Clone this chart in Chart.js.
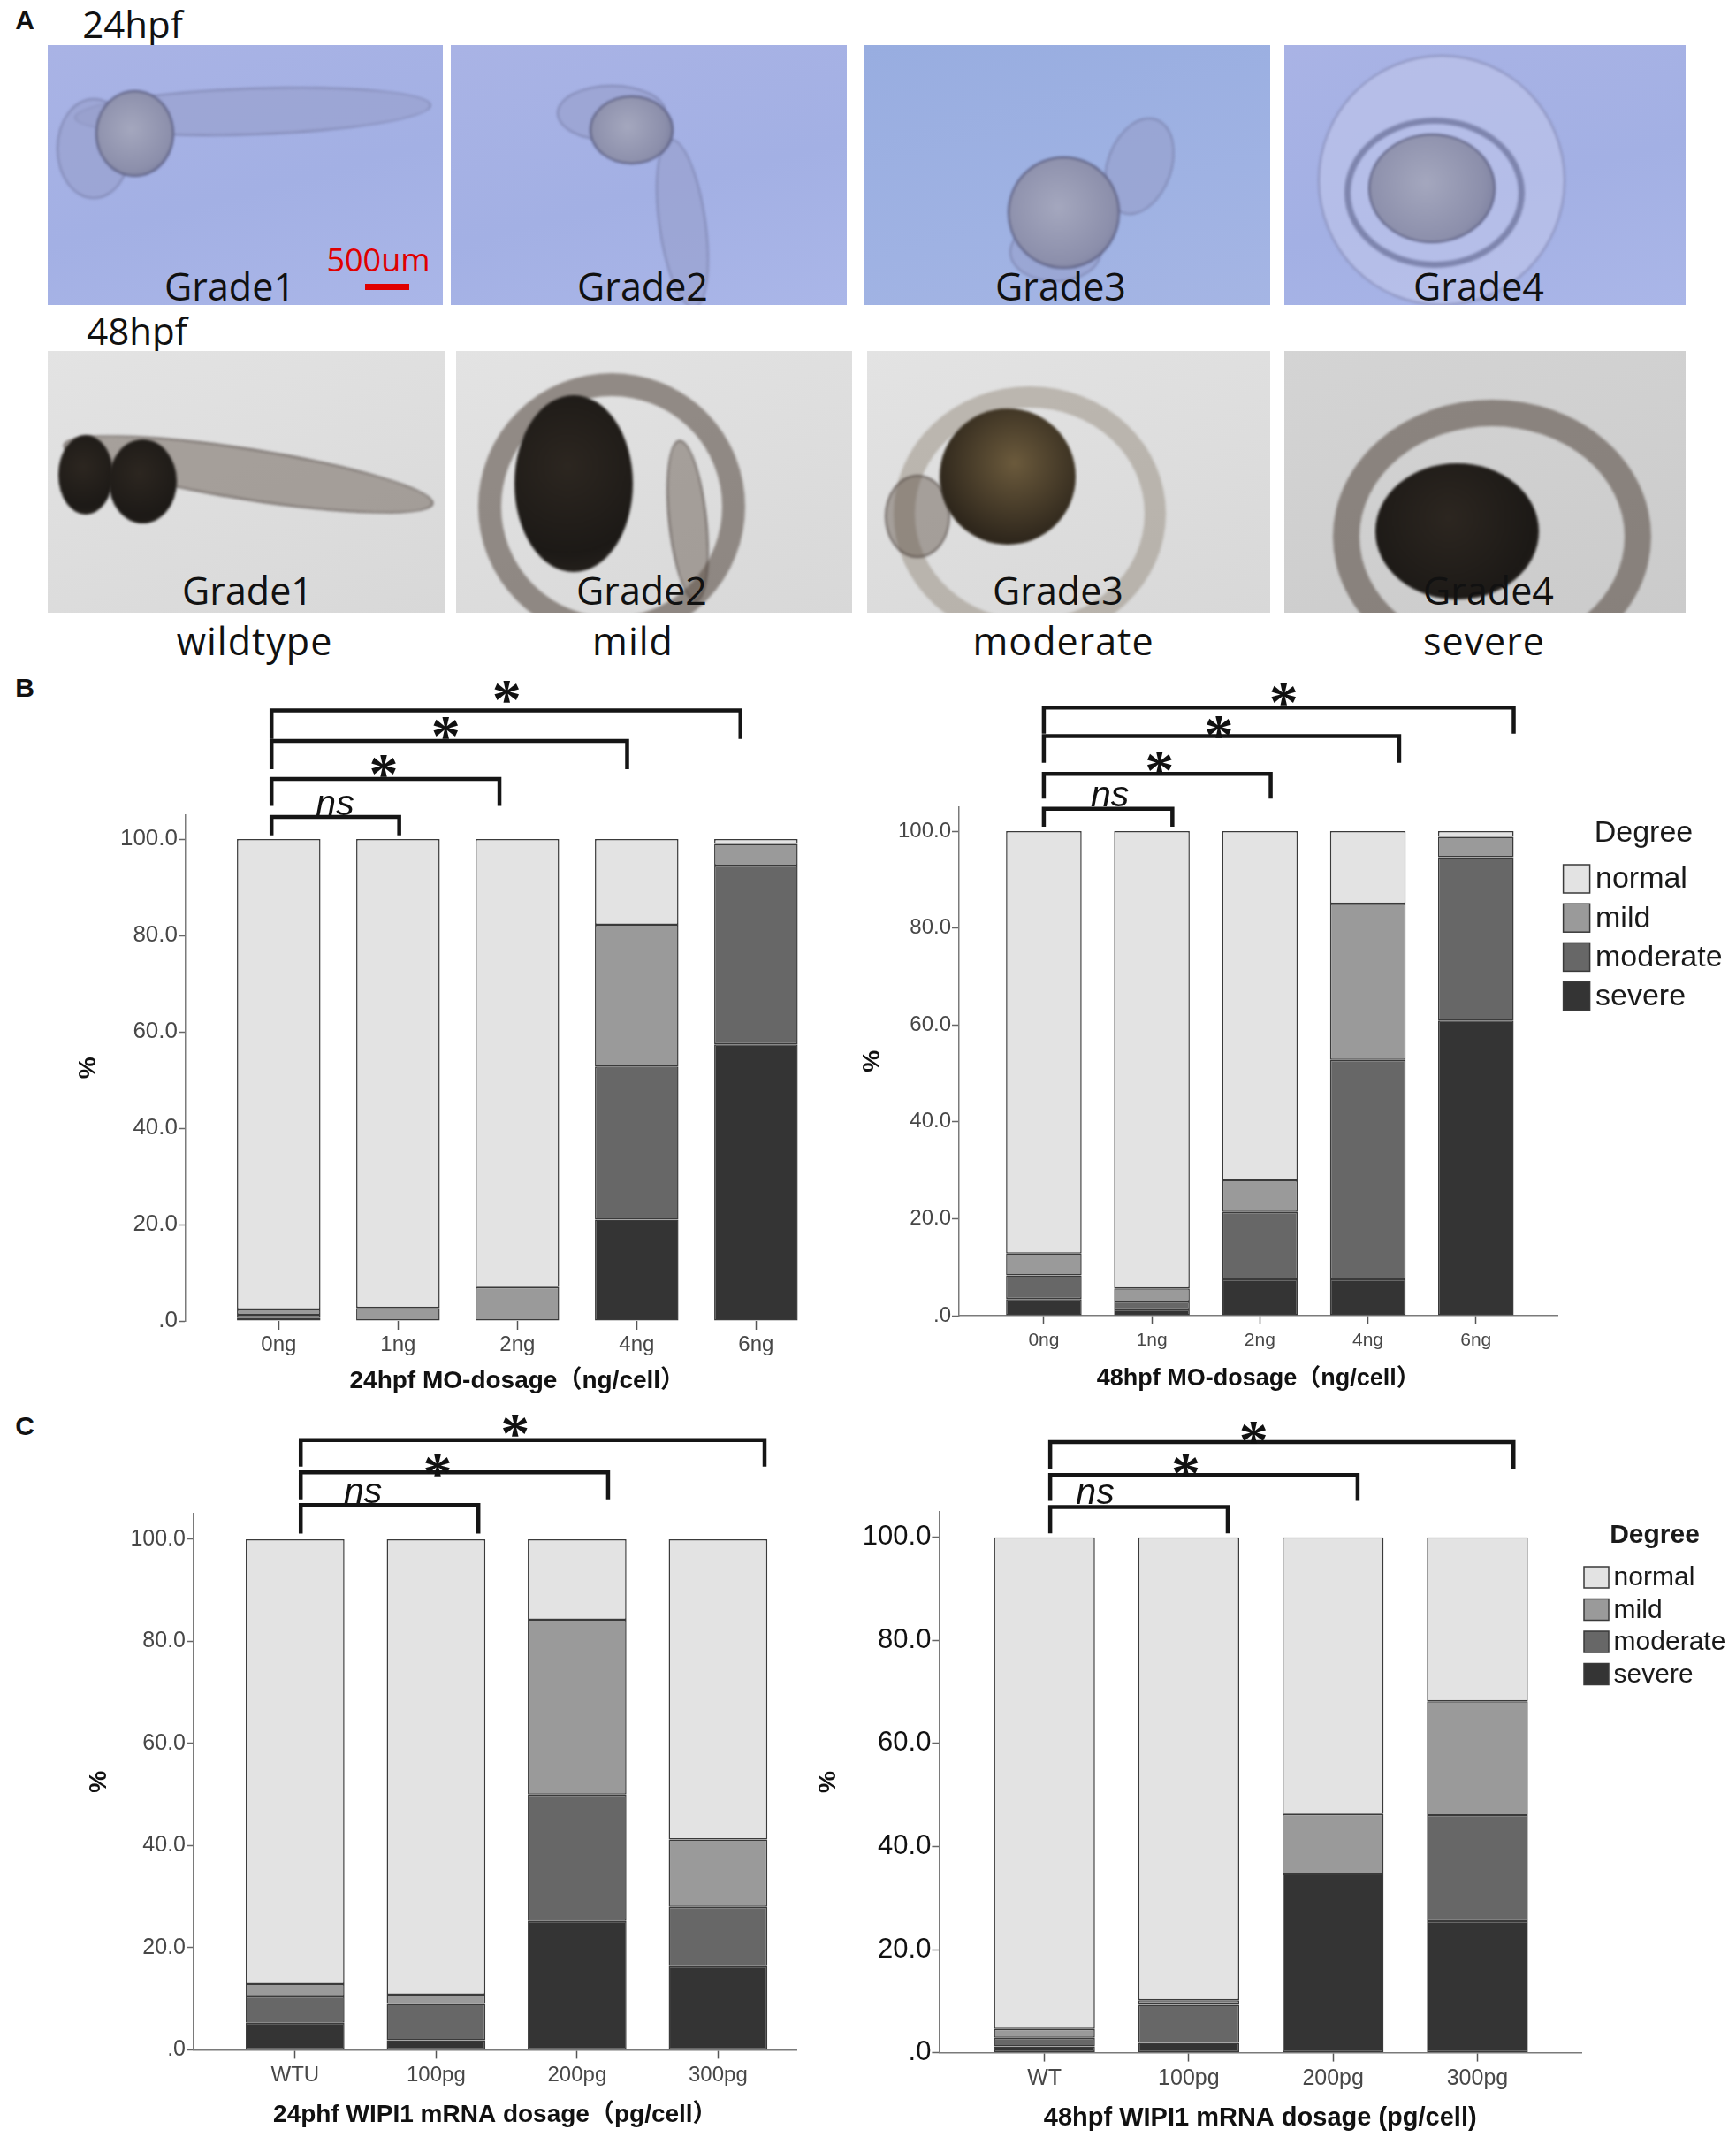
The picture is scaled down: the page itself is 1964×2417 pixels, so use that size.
<!DOCTYPE html>
<html>
<head>
<meta charset="utf-8">
<title>WIPI1 morphant grading</title>
<script src="https://cdn.jsdelivr.net/npm/chart.js@4.4.1/dist/chart.umd.min.js"></script>
<style>
  html, body { margin: 0; padding: 0; background: #fff; }
  #page { position: relative; width: 1964px; height: 2417px; overflow: hidden;
          font-family: "Liberation Sans", Arial, sans-serif; }
  .letter { position: absolute; font-weight: bold; font-size: 30px; color: #111;
            transform: translate(-50%, -50%); }
  .txt { position: absolute; font-family: "Open Sans", sans-serif; color: #111;
         white-space: nowrap; transform: translate(-50%, -50%); }
  .tile { position: absolute; overflow: hidden; }
  .blue { background: linear-gradient(165deg, #a9b3e5 0%, #a3b0e4 55%, #aab6e8 100%); }
  .blue2 { background: linear-gradient(165deg, #98ade0 0%, #9fb2e3 60%, #a5b5e4 100%); }
  .grey { background: linear-gradient(160deg, #e3e3e3 0%, #d8d8d8 100%); }
  .grey2 { background: linear-gradient(160deg, #d4d4d4 0%, #cbcbcb 100%); }
  .blob { position: absolute; border-radius: 50%; filter: blur(1.5px); }
  .yolk1 { background: radial-gradient(circle at 45% 45%, #a4a7be, #8c8fab 65%, #6f7396);
           border: 2px solid rgba(70,72,110,0.7); }
  .body1 { background: rgba(150,156,200,0.55); border: 2px solid rgba(95,100,140,0.45); }
  .yolk2 { background: radial-gradient(circle at 45% 40%, #2c2620, #1c1916 70%, #2a2520); }
  .body2 { background: rgba(95,82,70,0.45); border: 2px solid rgba(60,50,45,0.5); }
  .ring2 { background: transparent; border-style: solid; border-color: rgba(80,68,58,0.55); }
  .chart-box { position: absolute; }
</style>
</head>
<body>
<div id="page">

  <!-- ===== PANEL A : embryo grades ===== -->
  <div class="letter" style="left:28px; top:23px;">A</div>
  <div class="txt" style="left:150px; top:26px; font-size:42px;">24hpf</div>
  <div class="txt" style="left:155px; top:373px; font-size:42px;">48hpf</div>

  <div class="tile blue" style="left:54px; top:51px; width:447px; height:294px;">
    <div class="blob body1" style="left:30px; top:48px; width:400px; height:50px; transform:rotate(-2deg);"></div>
    <div class="blob body1" style="left:10px; top:60px; width:80px; height:110px;"></div>
    <div class="blob yolk1" style="left:54px; top:51px; width:85px; height:94px;"></div>
  </div>
  <div class="tile blue" style="left:510px; top:51px; width:448px; height:294px;">
    <div class="blob body1" style="left:120px; top:45px; width:120px; height:60px;"></div>
    <div class="blob body1" style="left:235px; top:105px; width:50px; height:190px; transform:rotate(-8deg);"></div>
    <div class="blob yolk1" style="left:157px; top:57px; width:91px; height:74px;"></div>
  </div>
  <div class="tile blue2" style="left:977px; top:51px; width:460px; height:294px;">
    <div class="blob body1" style="left:275px; top:80px; width:70px; height:110px; transform:rotate(20deg);"></div>
    <div class="blob body1" style="left:165px; top:200px; width:100px; height:64px;"></div>
    <div class="blob yolk1" style="left:163px; top:126px; width:123px; height:123px;"></div>
  </div>
  <div class="tile blue" style="left:1453px; top:51px; width:454px; height:294px;">
    <div class="blob" style="left:38px; top:11px; width:276px; height:280px; background:rgba(195,200,235,0.55); border:2px solid rgba(110,115,160,0.6);"></div>
    <div class="blob" style="left:68px; top:82px; width:190px; height:156px; border:7px solid rgba(80,85,125,0.55);"></div>
    <div class="blob yolk1" style="left:95px; top:100px; width:140px; height:120px;"></div>
  </div>

  <div class="tile grey" style="left:54px; top:397px; width:450px; height:296px;">
    <div class="blob body2" style="left:15px; top:110px; width:420px; height:55px; transform:rotate(9deg);"></div>
    <div class="blob yolk2" style="left:12px; top:95px; width:62px; height:90px;"></div>
    <div class="blob yolk2" style="left:69px; top:100px; width:77px; height:95px;"></div>
  </div>
  <div class="tile grey" style="left:516px; top:397px; width:448px; height:296px;">
    <div class="blob ring2" style="left:25px; top:25px; width:250px; height:250px; border-width:26px;"></div>
    <div class="blob body2" style="left:240px; top:100px; width:40px; height:180px; transform:rotate(-6deg);"></div>
    <div class="blob yolk2" style="left:66px; top:50px; width:134px; height:200px;"></div>
  </div>
  <div class="tile grey" style="left:981px; top:397px; width:456px; height:296px;">
    <div class="blob ring2" style="left:30px; top:40px; width:260px; height:240px; border-width:24px; border-color:rgba(150,140,125,0.5);"></div>
    <div class="blob body2" style="left:20px; top:140px; width:70px; height:90px;"></div>
    <div class="blob" style="left:82px; top:65px; width:154px; height:154px; background:radial-gradient(circle at 55% 40%, #6b5a3c, #2f271c 70%);"></div>
  </div>
  <div class="tile grey2" style="left:1453px; top:397px; width:454px; height:296px;">
    <div class="blob ring2" style="left:55px; top:55px; width:300px; height:250px; border-width:30px;"></div>
    <div class="blob yolk2" style="left:103px; top:127px; width:185px; height:154px;"></div>
  </div>

  <div class="txt" style="left:428px; top:293px; font-size:36px; color:#e00000;">500um</div>
  <div style="position:absolute; left:413px; top:321px; width:50px; height:7px; background:#e00000;"></div>

  <div class="txt" style="left:260px; top:323px; font-size:43px;">Grade1</div>
  <div class="txt" style="left:727px; top:323px; font-size:43px;">Grade2</div>
  <div class="txt" style="left:1200px; top:323px; font-size:43px;">Grade3</div>
  <div class="txt" style="left:1673px; top:323px; font-size:43px;">Grade4</div>
  <div class="txt" style="left:280px; top:667px; font-size:43px;">Grade1</div>
  <div class="txt" style="left:726px; top:667px; font-size:43px;">Grade2</div>
  <div class="txt" style="left:1197px; top:667px; font-size:43px;">Grade3</div>
  <div class="txt" style="left:1684px; top:667px; font-size:43px;">Grade4</div>

  <div class="txt" style="left:288px; top:724px; font-size:43px; letter-spacing:1px;">wildtype</div>
  <div class="txt" style="left:716px; top:724px; font-size:43px; letter-spacing:1px;">mild</div>
  <div class="txt" style="left:1203px; top:724px; font-size:43px; letter-spacing:1px;">moderate</div>
  <div class="txt" style="left:1679px; top:724px; font-size:43px; letter-spacing:1px;">severe</div>

  <div class="letter" style="left:28px; top:778px;">B</div>
  <div class="letter" style="left:28px; top:1613px;">C</div>
</div>

<script>
/* =========================
   DATA
========================= */

const degreeNames = ["severe", "moderate", "mild", "normal"];

const moDoses = ["0ng", "1ng", "2ng", "4ng", "6ng"];
const wipi24Doses = ["WTU", "100pg", "200pg", "300pg"];
const wipi48Doses = ["WT", "100pg", "200pg", "300pg"];

// 24hpf MO
const mo24Severe   = [0.6, 0.0, 0.0, 21.0, 57.4];
const mo24Moderate = [0.7, 0.0, 0.0, 31.8, 37.1];
const mo24Mild     = [1.1, 2.7, 7.0, 29.4, 4.5];
const mo24Normal   = [97.6, 97.3, 93.0, 17.8, 1.0];

// 48hpf MO
const mo48Severe   = [3.4, 1.3, 7.5, 7.5, 60.9];
const mo48Moderate = [4.9, 1.6, 13.9, 45.3, 33.7];
const mo48Mild     = [4.5, 2.7, 6.5, 32.2, 4.2];
const mo48Normal   = [87.2, 94.4, 72.1, 15.0, 1.2];

// 24hpf WIPI1 mRNA
const wipi24Severe   = [5.3, 1.9, 25.2, 16.4];
const wipi24Moderate = [5.2, 7.1, 24.8, 11.6];
const wipi24Mild     = [2.4, 1.8, 34.2, 13.2];
const wipi24Normal   = [87.1, 89.2, 15.8, 58.8];

// 48hpf WIPI1 mRNA
const wipi48Severe   = [1.2, 1.9, 34.7, 25.5];
const wipi48Moderate = [1.7, 7.4, 0.0, 20.6];
const wipi48Mild     = [1.7, 0.9, 11.6, 22.1];
const wipi48Normal   = [95.4, 89.8, 53.7, 31.8];

const percentTicks = [0, 20, 40, 60, 80, 100];

/* =========================
   STYLE
========================= */

const FONT = '"Liberation Sans", Arial, sans-serif';
const TITLE_FONT = '"Liberation Sans", "Noto Sans CJK SC", sans-serif';
const degreeColors = ["#343434", "#676767", "#9a9a9a", "#e3e3e3"];
const segBorder = "#3a3a3a";

/* =========================
   ANNOTATION HELPERS
========================= */

function drawCentered(ctx, text, cx, cy) {
    ctx.textAlign = "left";
    ctx.textBaseline = "alphabetic";
    let m = ctx.measureText(text);
    let w = m.actualBoundingBoxRight + m.actualBoundingBoxLeft;
    let x = cx - w / 2 + m.actualBoundingBoxLeft;
    let y = cy + (m.actualBoundingBoxAscent - m.actualBoundingBoxDescent) / 2;
    ctx.fillText(text, x, y);
}

function drawLegend(chart, spec) {
    let ctx = chart.ctx;
    let L = spec.legend;
    let ox = spec.box.left, oy = spec.box.top;

    ctx.fillStyle = "#1a1a1a";
    ctx.textAlign = "center";
    ctx.textBaseline = "middle";
    ctx.font = L.titleWeight + " " + L.titleSize + "px " + FONT;
    ctx.fillText(L.title, L.titleX - ox, L.titleY - oy);

    ctx.textAlign = "left";
    ctx.font = L.size + "px " + FONT;
    chart.data.datasets.slice().reverse().forEach((ds, i) => {
        let top = L.rowTop + i * L.rowStep - oy;
        let left = L.boxX - ox;
        ctx.fillStyle = ds.backgroundColor;
        ctx.fillRect(left, top, L.boxW, L.boxH);
        ctx.strokeStyle = segBorder;
        ctx.lineWidth = 1.5;
        ctx.strokeRect(left, top, L.boxW, L.boxH);
        ctx.fillStyle = "#1a1a1a";
        ctx.fillText(ds.label, L.textX - ox, top + L.boxH / 2 + 1);
    });
}

function sigPlugin(spec) {
    return {
        id: "sig",
        afterDraw(chart) {
            let ctx = chart.ctx;
            let xs = chart.scales.x, ys = chart.scales.y;
            ctx.save();
            ctx.strokeStyle = "#151515";
            ctx.lineWidth = 4.5;
            ctx.lineJoin = "miter";
            spec.marks.forEach(m => {
                let x1 = xs.getPixelForValue(m.from);
                let x2 = xs.getPixelForValue(m.to);
                let yt = ys.getPixelForValue(m.top);
                let yb = ys.getPixelForValue(m.bottom);
                ctx.beginPath();
                ctx.moveTo(x1, yb);
                ctx.lineTo(x1, yt);
                ctx.lineTo(x2, yt);
                ctx.lineTo(x2, yb);
                ctx.stroke();

                ctx.fillStyle = "#111";
                ctx.font = m.text === "ns"
                    ? 'italic 41px "Liberation Sans", sans-serif'
                    : 'bold 66px "Liberation Serif", serif';
                drawCentered(ctx, m.text, xs.getPixelForValue(m.lx), ys.getPixelForValue(m.ly));
            });
            if (spec.legend) drawLegend(chart, spec);
            ctx.restore();
        }
    };
}

/* =========================
   CHART FACTORY
========================= */

function makeChart(spec) {
    let box = spec.box, area = spec.area;

    let wrap = document.createElement("div");
    wrap.className = "chart-box";
    wrap.style.left = box.left + "px";
    wrap.style.top = box.top + "px";
    wrap.style.width = box.width + "px";
    wrap.style.height = box.height + "px";
    let canvas = document.createElement("canvas");
    wrap.appendChild(canvas);
    document.getElementById("page").appendChild(wrap);

    let datasets = spec.series.map((vals, k) => ({
        label: degreeNames[k],
        data: vals.map((v, i) => ({ x: i, y: v })),
        backgroundColor: degreeColors[k],
        borderColor: segBorder,
        borderWidth: 1.5,
        borderSkipped: false,
        categoryPercentage: 1,
        barPercentage: 0.7
    }));

    let xHeight = box.top + box.height - area.bottom;
    let yWidth = area.left - box.left;

    new Chart(canvas, {
        type: "bar",
        data: { datasets: datasets },
        options: {
            responsive: true,
            maintainAspectRatio: false,
            animation: false,
            devicePixelRatio: 1,
            layout: {
                padding: {
                    left: 0,
                    top: area.top - box.top,
                    right: box.left + box.width - area.right,
                    bottom: 0
                }
            },
            plugins: {
                legend: { display: false },
                tooltip: { enabled: false }
            },
            scales: {
                x: {
                    type: "linear",
                    stacked: true,
                    min: spec.xRange[0],
                    max: spec.xRange[1],
                    offset: false,
                    afterBuildTicks: s => { s.ticks = spec.labels.map((_, i) => ({ value: i })); },
                    afterFit: s => { s.height = xHeight; },
                    ticks: {
                        callback: v => spec.labels[v],
                        autoSkip: false,
                        maxRotation: 0,
                        padding: spec.xTickPad,
                        color: "#474747",
                        font: { family: FONT, size: spec.xTickSize }
                    },
                    grid: {
                        drawOnChartArea: false,
                        offset: false,
                        tickLength: 10,
                        tickWidth: 1.5,
                        tickColor: "#555"
                    },
                    border: { display: spec.xLine, color: "#7a7a7a", width: 1.5 },
                    title: {
                        display: true,
                        text: spec.xTitle,
                        color: "#111",
                        font: { family: TITLE_FONT, size: spec.xTitleSize, weight: "bold" },
                        padding: { top: 0, bottom: (box.top + box.height - spec.xTitleY) - 0.6 * spec.xTitleSize }
                    }
                },
                y: {
                    stacked: true,
                    min: 0,
                    max: 105,
                    afterBuildTicks: s => { s.ticks = percentTicks.map(v => ({ value: v })); },
                    afterFit: s => { s.width = yWidth; },
                    ticks: {
                        callback: v => v === 0 ? ".0" : v.toFixed(1),
                        padding: 1,
                        color: spec.yTickColor,
                        font: { family: FONT, size: spec.yTickSize }
                    },
                    grid: {
                        drawOnChartArea: false,
                        tickLength: 8,
                        tickWidth: 1.5,
                        tickColor: "#666"
                    },
                    border: { display: true, color: "#7a7a7a", width: 1.5 },
                    title: {
                        display: true,
                        text: "%",
                        color: "#111",
                        font: { family: FONT, size: 28, weight: "bold" },
                        padding: { top: (spec.yTitleX - box.left) - 0.6 * 28, bottom: 0 }
                    }
                }
            }
        },
        plugins: [sigPlugin(spec)]
    });
}

/* =========================
   PANELS B / C
========================= */

makeChart({
    labels: moDoses,
    series: [mo24Severe, mo24Moderate, mo24Mild, mo24Normal],
    box: { left: 0, top: 760, width: 975, height: 820 },
    area: { left: 210, top: 921.8, right: 960.6, bottom: 1494 },
    xRange: [-0.78, 4.78],
    xLine: false,
    xTickSize: 24, xTickPad: 3,
    yTickSize: 26, yTickColor: "#474747",
    xTitle: "24hpf MO-dosage（ng/cell）", xTitleSize: 28, xTitleY: 1562,
    yTitleX: 100,
    marks: [
        { from: -0.06, to: 1.01, top: 104.6, bottom: 100.8, text: "ns", lx: 0.47, ly: 106.9 },
        { from: -0.06, to: 1.85, top: 112.5, bottom: 106.9, text: "*", lx: 0.88, ly: 115.2 },
        { from: -0.06, to: 2.92, top: 120.4, bottom: 114.5, text: "*", lx: 1.40, ly: 123.1 },
        { from: -0.06, to: 3.87, top: 126.7, bottom: 120.8, text: "*", lx: 1.91, ly: 130.5 }
    ]
});

makeChart({
    labels: moDoses,
    series: [mo48Severe, mo48Moderate, mo48Mild, mo48Normal],
    box: { left: 970, top: 760, width: 994, height: 820 },
    area: { left: 1085, top: 912.6, right: 1762.6, bottom: 1488 },
    xRange: [-0.785, 4.76],
    xLine: true,
    xTickSize: 21, xTickPad: 6,
    yTickSize: 24, yTickColor: "#474747",
    xTitle: "48hpf MO-dosage（ng/cell）", xTitleSize: 27, xTitleY: 1559.5,
    yTitleX: 987,
    marks: [
        { from: 0.0, to: 1.19, top: 104.6, bottom: 100.9, text: "ns", lx: 0.61, ly: 107.2 },
        { from: 0.0, to: 2.10, top: 111.8, bottom: 106.7, text: "*", lx: 1.07, ly: 114.1 },
        { from: 0.0, to: 3.29, top: 119.6, bottom: 114.1, text: "*", lx: 1.62, ly: 121.4 },
        { from: 0.0, to: 4.35, top: 125.5, bottom: 120.1, text: "*", lx: 2.22, ly: 128.2 }
    ],
    legend: {
        title: "Degree", titleX: 1859.5, titleY: 942.5, titleSize: 34, titleWeight: "normal",
        boxX: 1768.6, boxW: 30, boxH: 32, rowTop: 978, rowStep: 44.2,
        textX: 1805, size: 34
    }
});

makeChart({
    labels: wipi24Doses,
    series: [wipi24Severe, wipi24Moderate, wipi24Mild, wipi24Normal],
    box: { left: 0, top: 1590, width: 910, height: 827 },
    area: { left: 219, top: 1712, right: 901.7, bottom: 2318.4 },
    xRange: [-0.72, 3.56],
    xLine: true,
    xTickSize: 24, xTickPad: 5,
    yTickSize: 25, yTickColor: "#474747",
    xTitle: "24phf WIPI1 mRNA dosage（pg/cell）", xTitleSize: 28, xTitleY: 2392.6,
    yTitleX: 112.7,
    marks: [
        { from: 0.04, to: 1.30, top: 106.7, bottom: 101.1, text: "ns", lx: 0.48, ly: 109.0 },
        { from: 0.04, to: 2.22, top: 113.1, bottom: 107.8, text: "*", lx: 1.01, ly: 114.5 },
        { from: 0.04, to: 3.33, top: 119.4, bottom: 114.2, text: "*", lx: 1.56, ly: 122.2 }
    ]
});

makeChart({
    labels: wipi48Doses,
    series: [wipi48Severe, wipi48Moderate, wipi48Mild, wipi48Normal],
    box: { left: 910, top: 1590, width: 1054, height: 827 },
    area: { left: 1062.4, top: 1709.7, right: 1789, bottom: 2321.6 },
    xRange: [-0.73, 3.72],
    xLine: true,
    xTickSize: 25, xTickPad: 5,
    yTickSize: 31, yTickColor: "#111",
    xTitle: "48hpf WIPI1 mRNA dosage (pg/cell)", xTitleSize: 29, xTitleY: 2396,
    yTitleX: 937,
    marks: [
        { from: 0.04, to: 1.27, top: 105.9, bottom: 100.8, text: "ns", lx: 0.35, ly: 108.4 },
        { from: 0.04, to: 2.17, top: 112.1, bottom: 107.1, text: "*", lx: 0.98, ly: 113.9 },
        { from: 0.04, to: 3.25, top: 118.5, bottom: 113.3, text: "*", lx: 1.45, ly: 120.3 }
    ],
    legend: {
        title: "Degree", titleX: 1872, titleY: 1736.4, titleSize: 30, titleWeight: "bold",
        boxX: 1792, boxW: 28, boxH: 24, rowTop: 1772, rowStep: 36.5,
        textX: 1825.6, size: 30
    }
});
</script>
</body>
</html>
